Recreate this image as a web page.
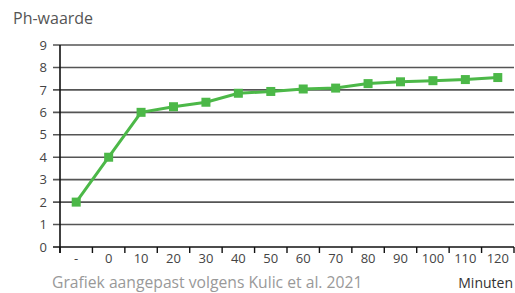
<!DOCTYPE html>
<html>
<head>
<meta charset="utf-8">
<script src="https://cdn.jsdelivr.net/npm/d3@7"></script>
<style>
  body { margin: 0; background: #fff; }
  svg { display: block; font-family: "Open Sans", Lato, sans-serif; }
</style>
</head>
<body>
<div id="chart"></div>
<script>
// categorieën en pH-waarden
const categories = ["-", "0", "10", "20", "30", "40", "50", "60", "70", "80", "90", "100", "110", "120"];
const phValues = [2, 4, 6, 6.25, 6.45, 6.85, 6.93, 7.04, 7.08, 7.28, 7.36, 7.41, 7.46, 7.55];
const yTicks = [0, 1, 2, 3, 4, 5, 6, 7, 8, 9];

const width = 515;
const height = 293;
const margin = { top: 45, right: 1, bottom: 46, left: 60 };

const svg = d3
  .select("#chart")
  .append("svg")
  .attr("width", width)
  .attr("height", height);

const x = d3
  .scaleBand()
  .domain(categories)
  .range([margin.left, width - margin.right]);

const y = d3
  .scaleLinear()
  .domain([0, 9])
  .range([height - margin.bottom, margin.top]);

// rasterlijnen
svg
  .append("g")
  .selectAll("line")
  .data(yTicks.filter((d) => d > 0))
  .enter()
  .append("line")
  .attr("x1", margin.left - 7)
  .attr("x2", width - margin.right)
  .attr("y1", (d) => y(d))
  .attr("y2", (d) => y(d))
  .attr("stroke", "#555")
  .attr("stroke-width", 1.6);

// y-as labels
svg
  .append("g")
  .selectAll("text")
  .data(yTicks)
  .enter()
  .append("text")
  .attr("x", margin.left - 13)
  .attr("y", (d) => y(d))
  .attr("dy", "0.36em")
  .attr("text-anchor", "end")
  .attr("font-size", 13)
  .attr("fill", "#444")
  .text((d) => d);

// x-as
const xAxis = svg
  .append("g")
  .attr("transform", "translate(0," + y(0) + ")");

xAxis
  .append("line")
  .attr("x1", margin.left - 7)
  .attr("x2", width - margin.right)
  .attr("stroke", "#111")
  .attr("stroke-width", 1.6);

xAxis
  .selectAll(".tick")
  .data(categories.concat(["end"]))
  .enter()
  .append("line")
  .attr("x1", (d, i) => margin.left + i * x.bandwidth())
  .attr("x2", (d, i) => margin.left + i * x.bandwidth())
  .attr("y1", 0)
  .attr("y2", 6)
  .attr("stroke", "#111")
  .attr("stroke-width", 1.4);

xAxis
  .selectAll(".label")
  .data(categories)
  .enter()
  .append("text")
  .attr("x", (d) => x(d) + x.bandwidth() / 2)
  .attr("y", 16)
  .attr("text-anchor", "middle")
  .attr("font-size", 13)
  .attr("fill", "#444")
  .text((d) => d);

// y-as lijn
svg
  .append("line")
  .attr("x1", margin.left)
  .attr("x2", margin.left)
  .attr("y1", y(9))
  .attr("y2", y(0) + 6)
  .attr("stroke", "#111")
  .attr("stroke-width", 1.6);

// lijn
const line = d3
  .line()
  .x((d, i) => x(categories[i]) + x.bandwidth() / 2)
  .y((d) => y(d));

svg
  .append("path")
  .datum(phValues)
  .attr("d", line)
  .attr("fill", "none")
  .attr("stroke", "#4cb848")
  .attr("stroke-width", 3);

// markers
svg
  .selectAll(".marker")
  .data(phValues)
  .enter()
  .append("rect")
  .attr("class", "marker")
  .attr("x", (d, i) => x(categories[i]) + x.bandwidth() / 2 - 4.5)
  .attr("y", (d) => y(d) - 4.5)
  .attr("width", 9)
  .attr("height", 9)
  .attr("fill", "#4cb848");

// titels
svg
  .append("text")
  .attr("x", 13)
  .attr("y", 24)
  .attr("font-size", 16)
  .attr("fill", "#555")
  .text("Ph-waarde");

svg
  .append("text")
  .attr("x", 52)
  .attr("y", 288)
  .attr("font-size", 15.7)
  .attr("fill", "#999")
  .text("Grafiek aangepast volgens Kulic et al. 2021");

svg
  .append("text")
  .attr("x", width - 2)
  .attr("y", 288)
  .attr("text-anchor", "end")
  .attr("font-size", 14)
  .attr("fill", "#333")
  .text("Minuten");
</script>
</body>
</html>
